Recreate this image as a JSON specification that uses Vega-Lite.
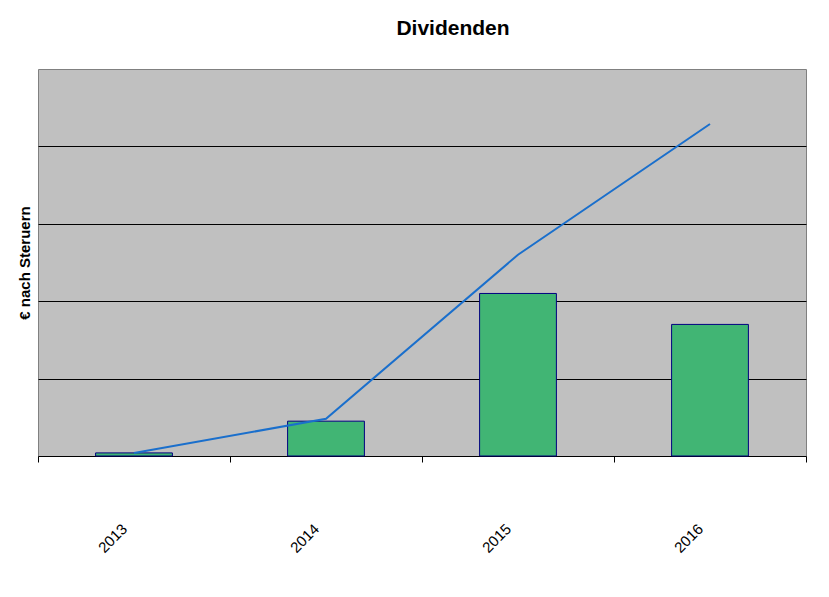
{
  "$schema": "https://vega.github.io/schema/vega-lite/v6.json",
  "autosize": "none",
  "width": 768,
  "height": 387,
  "padding": {"left": 38, "top": 69, "right": 23, "bottom": 141},
  "background": "white",
  "config": {
    "font": "Liberation Sans",
    "view": {"fill": "#c0c0c0", "stroke": "#808080", "strokeWidth": 1}
  },
  "title": {
    "text": "Dividenden",
    "font": "Liberation Sans",
    "fontSize": 21,
    "fontWeight": "bold",
    "color": "black",
    "anchor": "middle",
    "dx": 31,
    "offset": 30
  },
  "data": {
    "values": [
      {"Jahr": "2013", "Dividende": 0.04, "Kumuliert": 0.04},
      {"Jahr": "2014", "Dividende": 0.45, "Kumuliert": 0.48},
      {"Jahr": "2015", "Dividende": 2.10, "Kumuliert": 2.60},
      {"Jahr": "2016", "Dividende": 1.70, "Kumuliert": 4.29}
    ]
  },
  "encoding": {
    "x": {
      "field": "Jahr",
      "type": "ordinal",
      "scale": {"paddingInner": 0, "paddingOuter": 0},
      "axis": {
        "title": null,
        "labelAngle": -45,
        "labelAlign": "right",
        "labelBaseline": "middle",
        "labelFontSize": 15,
        "labelColor": "black",
        "labelPadding": 64,
        "labelOffset": -10,
        "domainColor": "black",
        "domainWidth": 1,
        "tickColor": "black",
        "tickSize": 6,
        "tickBand": "extent",
        "grid": false
      }
    }
  },
  "layer": [
    {
      "mark": {"type": "bar", "width": {"band": 0.4}, "fill": "#41b574", "stroke": "#000080", "strokeWidth": 1},
      "encoding": {
        "y": {
          "field": "Dividende",
          "type": "quantitative",
          "scale": {"domain": [0, 5], "nice": false},
          "axis": {
            "title": "€ nach Steruern",
            "titleFontSize": 15,
            "titleFontWeight": "bold",
            "titleColor": "black",
            "titlePadding": 6,
            "labels": false,
            "ticks": false,
            "domain": false,
            "values": [1, 2, 3, 4],
            "grid": true,
            "gridColor": "black",
            "gridOpacity": 1,
            "gridWidth": 1
          }
        }
      }
    },
    {
      "mark": {"type": "line", "color": "#1a6fcc", "strokeWidth": 2},
      "encoding": {
        "y": {"field": "Kumuliert", "type": "quantitative"}
      }
    }
  ]
}
